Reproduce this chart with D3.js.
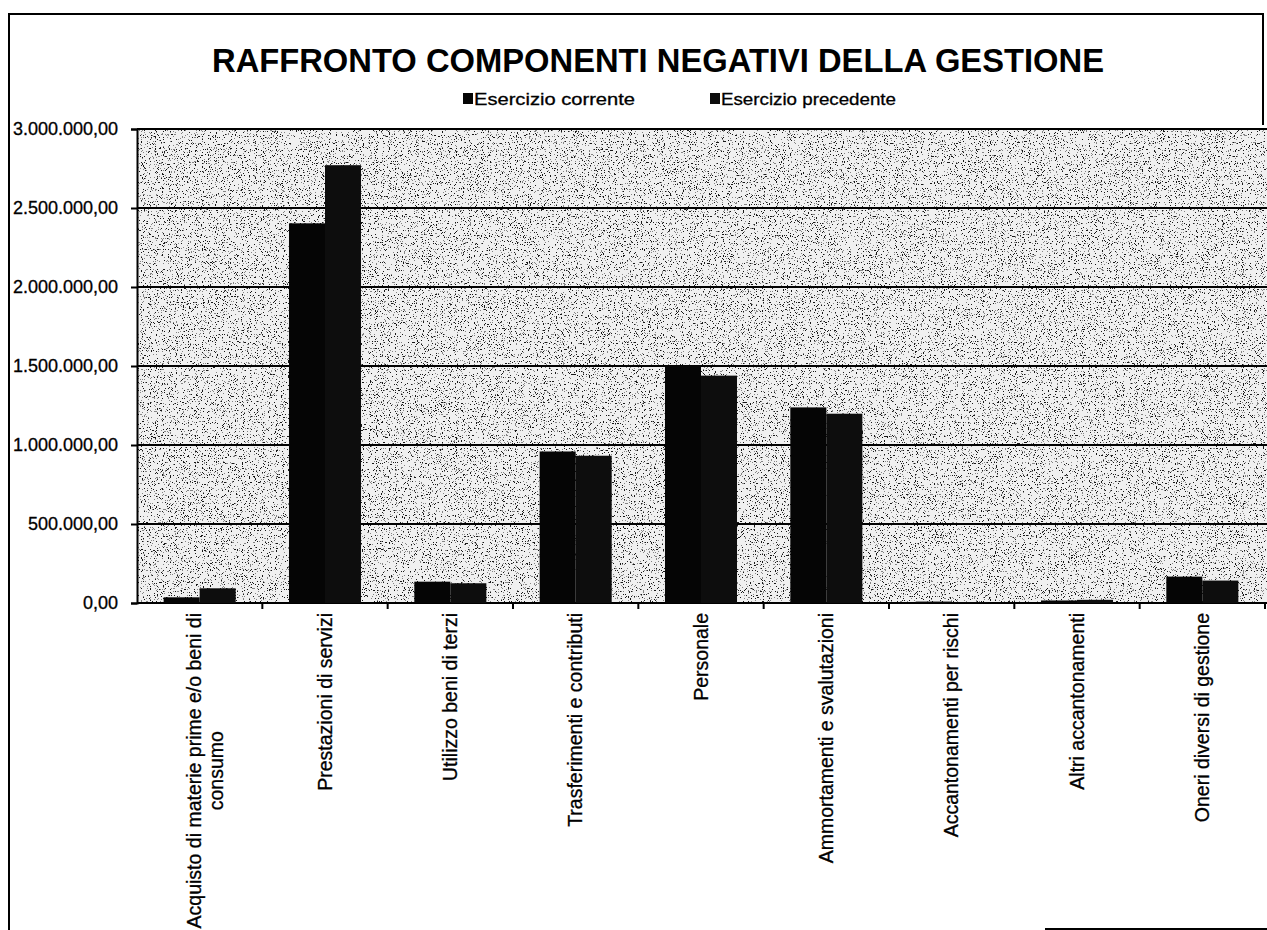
<!DOCTYPE html>
<html>
<head>
<meta charset="utf-8">
<script src="https://cdn.jsdelivr.net/npm/d3@7/dist/d3.min.js"></script>
<style>
  body { margin: 0; background: #fff; }
  svg text { font-family: "Liberation Sans", Arial, sans-serif; fill: #000; }
</style>
</head>
<body>
<div id="chart"></div>
<script>
// Categories (x axis), one label per line for the rotated tick labels.
const categories = [
  "Acquisto di materie prime e/o beni di consumo",
  "Prestazioni di servizi",
  "Utilizzo  beni di terzi",
  "Trasferimenti e contributi",
  "Personale",
  "Ammortamenti e svalutazioni",
  "Accantonamenti per rischi",
  "Altri accantonamenti",
  "Oneri diversi di gestione"
];
const categoryLines = [
  ["Acquisto di materie prime e/o beni di", "consumo"],
  ["Prestazioni di servizi"],
  ["Utilizzo  beni di terzi"],
  ["Trasferimenti e contributi"],
  ["Personale"],
  ["Ammortamenti e svalutazioni"],
  ["Accantonamenti per rischi"],
  ["Altri accantonamenti"],
  ["Oneri diversi di gestione"]
];

// Series names and values.
const seriesNames = ["Esercizio corrente", "Esercizio precedente"];
const esercizioCorrente = [36000, 2403000, 135000, 959000, 1503000, 1238000, 9000, 16000, 167000];
const esercizioPrecedente = [93000, 2771000, 125000, 932000, 1439000, 1198000, 3000, 20000, 142000];

// Y axis ticks.
const yTicks = [0, 500000, 1000000, 1500000, 2000000, 2500000, 3000000];

const chartTitle = "RAFFRONTO COMPONENTI NEGATIVI DELLA GESTIONE";

/**
 * Draw the grouped bar chart.
 *
 * @param {string} chartLocation
 *   Selector of the element that receives the svg.
 * @param {int} width
 * @param {int} height
 * @param {object} plot
 *   Edges of the plot area, in pixels.
 */
function groupedBarChart(chartLocation, width, height, plot) {
  const svg = d3.select(chartLocation).append("svg")
    .attr("width", width)
    .attr("height", height);

  // Speckled background, like the scanned page.
  const defs = svg.append("defs");
  const filter = defs.append("filter")
    .attr("id", "speckle")
    .attr("x", 0).attr("y", 0).attr("width", "100%").attr("height", "100%");
  filter.append("feTurbulence")
    .attr("type", "fractalNoise")
    .attr("baseFrequency", 0.85)
    .attr("numOctaves", 2)
    .attr("seed", 7)
    .attr("result", "noise");
  filter.append("feColorMatrix")
    .attr("in", "noise")
    .attr("type", "matrix")
    .attr("values", "0 0 0 0 0  0 0 0 0 0  0 0 0 0 0  7 0 0 0 -4.05");
  filter.append("feComponentTransfer")
    .append("feFuncA")
    .attr("type", "discrete")
    .attr("tableValues", "0 0.45 0.9");

  // Italian number format: 3.000.000,00
  const locale = d3.formatLocale({
    decimal: ",",
    thousands: ".",
    grouping: [3],
    currency: ["", " €"]
  });
  const format = locale.format(",.2f");

  const x = d3.scaleBand()
    .domain(categories)
    .range([plot.left, plot.right])
    .paddingInner(0)
    .paddingOuter(0);

  const x1 = d3.scaleBand()
    .domain(seriesNames)
    .range([0, x.bandwidth()])
    .paddingInner(0)
    .paddingOuter(0.74);

  const y = d3.scaleLinear()
    .domain([0, 3000000])
    .range([plot.bottom, plot.top]);

  // Outer frame of the chart.
  svg.append("path")
    .attr("d", `M9,930 V14 H1263 V125`)
    .attr("fill", "none")
    .attr("stroke", "#000")
    .attr("stroke-width", 2);
  svg.append("line")
    .attr("x1", 1045).attr("x2", 1267)
    .attr("y1", 929).attr("y2", 929)
    .attr("stroke", "#000")
    .attr("stroke-width", 2);

  // Plot area background.
  svg.append("rect")
    .attr("x", plot.left).attr("y", plot.top)
    .attr("width", plot.right - plot.left + 2)
    .attr("height", plot.bottom - plot.top)
    .attr("fill", "#f0f0f0");
  svg.append("rect")
    .attr("x", plot.left).attr("y", plot.top)
    .attr("width", plot.right - plot.left + 2)
    .attr("height", plot.bottom - plot.top)
    .attr("fill", "#3a3a3a")
    .attr("filter", "url(#speckle)");

  // Gridlines.
  svg.append("g")
    .selectAll("line")
    .data(yTicks)
    .join("line")
    .attr("x1", plot.left)
    .attr("x2", plot.right + 2)
    .attr("y1", d => y(d))
    .attr("y2", d => y(d))
    .attr("stroke", "#000")
    .attr("stroke-width", 2);

  // Y axis.
  const yAxis = svg.append("g")
    .attr("transform", `translate(${plot.left},0)`)
    .call(d3.axisLeft(y).tickValues(yTicks).tickFormat(format).tickSize(6).tickPadding(13));
  yAxis.select(".domain").attr("stroke", "#000").attr("stroke-width", 2);
  yAxis.selectAll(".tick line").attr("stroke", "#000").attr("stroke-width", 2);
  yAxis.selectAll(".tick text")
    .style("font-size", "18px")
    .attr("fill", "#000")
    .attr("stroke", "#000")
    .attr("stroke-width", 0.3);

  // Bars.
  const series = [esercizioCorrente, esercizioPrecedente];
  const colors = ["#050505", "#0d0d0d"];
  svg.append("g")
    .selectAll("g")
    .data(categories)
    .join("g")
    .attr("transform", d => `translate(${x(d)},0)`)
    .selectAll("rect")
    .data((d, i) => seriesNames.map((s, j) => ({ s: s, j: j, v: series[j][i] })))
    .join("rect")
    .attr("x", d => x1(d.s))
    .attr("width", x1.bandwidth())
    .attr("y", d => y(d.v))
    .attr("height", d => y(0) - y(d.v))
    .attr("fill", d => colors[d.j]);

  // X axis: ticks on the category boundaries.
  const boundaries = categories.map(c => x(c)).concat([plot.right]);
  svg.append("g")
    .selectAll("line")
    .data(boundaries.slice(1))
    .join("line")
    .attr("x1", d => d).attr("x2", d => d)
    .attr("y1", plot.bottom).attr("y2", plot.bottom + 6)
    .attr("stroke", "#000")
    .attr("stroke-width", 2);

  // Rotated category labels, text ends near the axis.
  const labels = svg.append("g")
    .selectAll("g")
    .data(categories)
    .join("g")
    .attr("transform", d => `translate(${x(d) + x.bandwidth() / 2},${plot.bottom + 10}) rotate(-90)`);
  labels.each(function(d, i) {
    const g = d3.select(this);
    const lines = categoryLines[i];
    const lineHeight = 22;
    const texts = g.selectAll("text")
      .data(lines)
      .join("text")
      .style("font-size", "19.5px")
      .attr("stroke", "#000")
      .attr("stroke-width", 0.3)
      .attr("dy", "0.35em")
      .text(t => t);
    const maxW = d3.max(texts.nodes(), n => n.getComputedTextLength());
    texts
      .attr("text-anchor", "middle")
      .attr("x", -maxW / 2)
      .attr("y", (t, k) => (k - (lines.length - 1) / 2) * lineHeight + (lines.length > 1 ? 6 : 0));
  });

  // Title.
  svg.append("text")
    .attr("x", 212)
    .attr("y", 72)
    .attr("textLength", 892)
    .attr("lengthAdjust", "spacingAndGlyphs")
    .style("font-size", "33px")
    .style("font-weight", "bold")
    .text(chartTitle);

  // Legend.
  const legendX = [463, 710];
  const legendW = [161, 175];
  const legend = svg.append("g")
    .selectAll("g")
    .data(seriesNames)
    .join("g")
    .attr("transform", (d, i) => `translate(${legendX[i]},92)`);
  legend.append("rect")
    .attr("y", 1)
    .attr("width", 10)
    .attr("height", 11)
    .attr("fill", (d, i) => colors[i]);
  legend.append("text")
    .attr("x", 11)
    .attr("y", 13)
    .attr("textLength", (d, i) => legendW[i])
    .attr("lengthAdjust", "spacingAndGlyphs")
    .attr("stroke", "#000")
    .attr("stroke-width", 0.3)
    .style("font-size", "17px")
    .text(d => d);
}

groupedBarChart("#chart", 1267, 930, { left: 137, right: 1265, top: 129, bottom: 603 });
</script>
</body>
</html>
